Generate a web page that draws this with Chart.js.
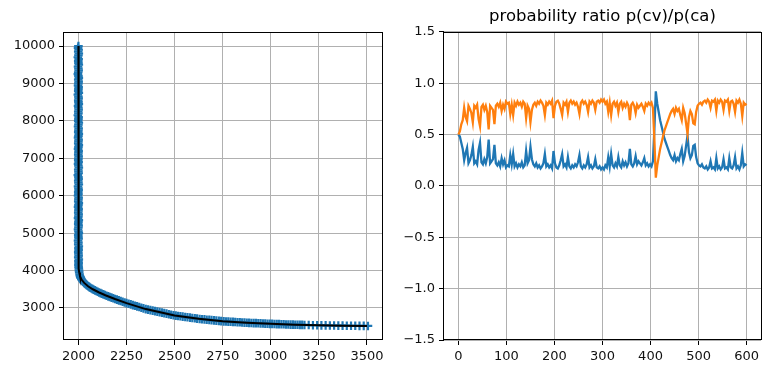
<!DOCTYPE html>
<html>
<head>
<meta charset="utf-8">
<script src="https://cdn.jsdelivr.net/npm/chart.js@4.4.1/dist/chart.umd.min.js"></script>
<style>
  body { margin: 0; background: #fff; }
  #wrap { position: relative; width: 771px; height: 374px; }
  canvas { position: absolute; top: 0; }
</style>
</head>
<body>
<div id="wrap">
  <canvas id="curveChart" width="390" height="374" style="left:0"></canvas>
  <canvas id="ratioChart" width="381" height="374" style="left:390px"></canvas>
</div>
<script>
// left panel: scattered samples (+) and the fitted curve (black)
const scatterX = [
  2000, 1998, 2001, 1999, 2002, 2000, 1997, 2001, 1999, 2000,
  2002, 1998, 2000, 2001, 1999, 1997, 2000, 2002, 1999, 2001,
  2000, 1998, 2001, 2000, 1999, 2002, 1997, 2000, 2001, 1999,
  2000, 2002, 1998, 2000, 2001, 1999, 2000, 1997, 2001, 2000,
  1999, 2002, 2000, 1998, 2001, 2000, 1999, 2002, 2000, 1998,
  2001, 2000, 1999, 2002, 2000, 1998, 2001, 2000, 1999, 2001,
  2000, 1999, 2001, 1998, 2000, 2002, 1999, 2000, 2001, 1997,
  2000, 2001, 1999, 2000, 2002, 1998, 2000, 2001, 1999, 2000,
  1998, 2001, 2000, 1999, 2002, 2000, 1998, 2001, 2000, 1999,
  2001, 2000, 1998, 2002, 2000, 1999, 2001, 2000, 1998, 2000,
  2002, 1999, 2000, 2001, 1998, 2000, 1999, 2002, 2000, 2001,
  1999, 2000, 2001, 1999, 2002, 2000, 2001, 2000, 2001, 2002,
  2003, 2004, 2006, 2008, 2010, 2012, 2015, 2017, 2020, 2023,
  2026, 2030, 2034, 2038, 2042, 2047, 2052, 2057, 2062, 2068,
  2074, 2080, 2086, 2093, 2100, 2107, 2115, 2122, 2130, 2138,
  2146, 2155, 2163, 2172, 2181, 2190, 2200, 2210, 2220, 2230,
  2240, 2250, 2261, 2272, 2283, 2294, 2305, 2316, 2327, 2338,
  2350, 2362, 2374, 2386, 2398, 2410, 2422, 2434, 2446, 2458,
  2470, 2482, 2494, 2506, 2518, 2530, 2542, 2555, 2567, 2580,
  2592, 2605, 2617, 2630, 2642, 2655, 2667, 2680, 2692, 2705,
  2717, 2730, 2742, 2755, 2767, 2779, 2791, 2803, 2815, 2827,
  2839, 2851, 2863, 2875, 2887, 2899, 2911, 2923, 2935, 2947,
  2959, 2971, 2983, 2995, 3007, 3019, 3031, 3043, 3055, 3067,
  3079, 3091, 3103, 3115, 3127, 3139, 3151, 3163, 3175, 3197,
  3219, 3241, 3263, 3285, 3307, 3329, 3351, 3373, 3395, 3417,
  3439, 3461, 3483, 3505
];
const scatterY = [
  10000, 9950, 9900, 9850, 9800, 9750, 9700, 9650, 9600, 9550,
  9500, 9450, 9400, 9350, 9300, 9250, 9200, 9150, 9100, 9050,
  9000, 8950, 8900, 8850, 8800, 8750, 8700, 8650, 8600, 8550,
  8500, 8450, 8400, 8350, 8300, 8250, 8200, 8150, 8100, 8050,
  8000, 7950, 7900, 7850, 7800, 7750, 7700, 7650, 7600, 7550,
  7500, 7450, 7400, 7350, 7300, 7250, 7200, 7150, 7100, 7050,
  7000, 6950, 6900, 6850, 6800, 6750, 6700, 6650, 6600, 6550,
  6500, 6450, 6400, 6350, 6300, 6250, 6200, 6150, 6100, 6050,
  6000, 5950, 5900, 5850, 5800, 5750, 5700, 5650, 5600, 5550,
  5500, 5450, 5400, 5350, 5300, 5250, 5200, 5150, 5100, 5050,
  5000, 4950, 4900, 4850, 4800, 4750, 4700, 4650, 4600, 4550,
  4500, 4450, 4400, 4350, 4300, 4250, 4200, 4150, 4100, 4050,
  4000, 3950, 3900, 3850, 3825, 3805, 3780, 3754, 3735, 3715,
  3692, 3670, 3652, 3634, 3616, 3594, 3576, 3558, 3540, 3522,
  3504, 3487, 3470, 3452, 3433, 3415, 3397, 3381, 3363, 3345,
  3327, 3310, 3293, 3276, 3258, 3240, 3222, 3203, 3185, 3167,
  3148, 3130, 3112, 3095, 3077, 3060, 3042, 3024, 3007, 2989,
  2970, 2956, 2943, 2929, 2916, 2902, 2889, 2875, 2861, 2848,
  2834, 2820, 2807, 2796, 2787, 2778, 2769, 2760, 2751, 2742,
  2733, 2724, 2716, 2707, 2700, 2694, 2687, 2681, 2674, 2668,
  2661, 2655, 2649, 2643, 2640, 2636, 2632, 2628, 2624, 2620,
  2617, 2613, 2609, 2605, 2602, 2599, 2596, 2594, 2591, 2588,
  2585, 2582, 2579, 2576, 2574, 2571, 2569, 2567, 2565, 2563,
  2560, 2558, 2556, 2554, 2552, 2550, 2549, 2547, 2546, 2543,
  2540, 2538, 2536, 2534, 2532, 2531, 2529, 2527, 2526, 2525,
  2524, 2522, 2521, 2520
];
const curveX = [2000, 2000, 2002, 2004, 2008, 2016, 2030, 2050, 2075, 2105, 2140, 2190,
  2250, 2350, 2500, 2625, 2750, 2875, 3000, 3125, 3250, 3375, 3500];
const curveY = [10000, 4300, 4050, 3950, 3850, 3760, 3670, 3580, 3500, 3420, 3340, 3240,
  3130, 2970, 2800, 2710, 2645, 2605, 2575, 2552, 2537, 2527, 2520];
const curveXTicks = [2000, 2250, 2500, 2750, 3000, 3250, 3500];
const curveYTicks = [3000, 4000, 5000, 6000, 7000, 8000, 9000, 10000];

// right panel: one value every 3 steps, 0..600
const step = 3;
const pBlue = [
  0.50, 0.48, 0.42, 0.36, 0.25, 0.32, 0.37, 0.22, 0.25, 0.30,
  0.38, 0.22, 0.24, 0.21, 0.35, 0.42, 0.23, 0.21, 0.26, 0.22,
  0.28, 0.45, 0.22, 0.24, 0.26, 0.40, 0.22, 0.20, 0.23, 0.19,
  0.27, 0.21, 0.25, 0.18, 0.20, 0.19, 0.30, 0.21, 0.31, 0.19,
  0.22, 0.18, 0.21, 0.19, 0.23, 0.18, 0.20, 0.34, 0.22, 0.25,
  0.38, 0.26, 0.21, 0.19, 0.22, 0.18, 0.20, 0.17, 0.19, 0.22,
  0.31, 0.19, 0.21, 0.18, 0.20, 0.17, 0.34, 0.22, 0.18, 0.17,
  0.20, 0.25, 0.31, 0.19, 0.21, 0.18, 0.28, 0.19, 0.17, 0.20,
  0.18, 0.21, 0.19, 0.23, 0.30, 0.19, 0.17, 0.20, 0.18, 0.21,
  0.28, 0.18, 0.20, 0.17, 0.19, 0.26, 0.18, 0.17, 0.19, 0.16,
  0.18, 0.16, 0.20, 0.18, 0.28, 0.19, 0.31, 0.20, 0.18, 0.22,
  0.19, 0.28, 0.20, 0.18, 0.24, 0.20, 0.23, 0.19, 0.22, 0.36,
  0.21, 0.19, 0.22, 0.29, 0.21, 0.24, 0.22, 0.20, 0.23, 0.27,
  0.20, 0.22, 0.19, 0.21, 0.19, 0.24, 0.55, 0.92, 0.80, 0.72,
  0.64, 0.58, 0.52, 0.46, 0.42, 0.38, 0.34, 0.30, 0.27, 0.25,
  0.30, 0.24, 0.27, 0.25, 0.31, 0.36, 0.24, 0.29, 0.39, 0.49,
  0.33, 0.27, 0.30, 0.39, 0.40, 0.28, 0.22, 0.20, 0.19, 0.21,
  0.18, 0.17, 0.19, 0.16, 0.18, 0.24, 0.17, 0.18, 0.16, 0.27,
  0.17, 0.19, 0.16, 0.18, 0.26, 0.17, 0.18, 0.16, 0.27, 0.18,
  0.17, 0.20, 0.28, 0.17, 0.19, 0.16, 0.20, 0.32, 0.19, 0.21,
  0.20
];
const pOrange = [
  0.50, 0.53, 0.60, 0.64, 0.76, 0.67, 0.63, 0.78, 0.75, 0.71,
  0.62, 0.78, 0.76, 0.79, 0.65, 0.58, 0.77, 0.79, 0.74, 0.78,
  0.72, 0.55, 0.78, 0.76, 0.74, 0.60, 0.78, 0.80, 0.77, 0.81,
  0.73, 0.79, 0.75, 0.82, 0.80, 0.81, 0.70, 0.79, 0.69, 0.81,
  0.78, 0.82, 0.79, 0.81, 0.77, 0.82, 0.80, 0.66, 0.78, 0.75,
  0.62, 0.74, 0.79, 0.81, 0.78, 0.82, 0.80, 0.83, 0.81, 0.78,
  0.69, 0.81, 0.79, 0.82, 0.80, 0.83, 0.66, 0.78, 0.82, 0.83,
  0.80, 0.75, 0.69, 0.81, 0.79, 0.82, 0.72, 0.81, 0.83, 0.80,
  0.82, 0.79, 0.81, 0.77, 0.70, 0.81, 0.83, 0.80, 0.82, 0.79,
  0.72, 0.82, 0.80, 0.83, 0.81, 0.74, 0.82, 0.83, 0.81, 0.84,
  0.82, 0.84, 0.80, 0.82, 0.72, 0.81, 0.69, 0.80, 0.82, 0.78,
  0.81, 0.72, 0.80, 0.82, 0.76, 0.80, 0.77, 0.81, 0.78, 0.64,
  0.79, 0.81, 0.78, 0.71, 0.79, 0.76, 0.78, 0.80, 0.77, 0.73,
  0.80, 0.78, 0.81, 0.79, 0.81, 0.76, 0.45, 0.08, 0.20, 0.28,
  0.36, 0.42, 0.48, 0.54, 0.58, 0.62, 0.66, 0.70, 0.73, 0.75,
  0.70, 0.76, 0.73, 0.75, 0.69, 0.64, 0.76, 0.71, 0.61, 0.51,
  0.67, 0.73, 0.70, 0.61, 0.60, 0.72, 0.78, 0.80, 0.81, 0.79,
  0.82, 0.83, 0.81, 0.84, 0.82, 0.76, 0.83, 0.82, 0.84, 0.73,
  0.83, 0.81, 0.84, 0.82, 0.74, 0.83, 0.82, 0.84, 0.73, 0.82,
  0.83, 0.80, 0.72, 0.83, 0.81, 0.84, 0.80, 0.68, 0.81, 0.79,
  0.80
];
const ratioXTicks = [0, 100, 200, 300, 400, 500, 600];
const ratioYTicks = [-1.5, -1.0, -0.5, 0.0, 0.5, 1.0, 1.5];
const ratioTitle = 'probability ratio p(cv)/p(ca)';

const tickFont = { family: 'DejaVu Sans', size: 13 };
const gridStyle = { color: '#b0b0b0', lineWidth: 1, tickColor: '#000', tickLength: 5 };

// matplotlib-like box around the plot area
const frame = {
  id: 'frame',
  afterDatasetsDraw(chart) {
    const a = chart.chartArea;
    const ctx = chart.ctx;
    ctx.save();
    ctx.strokeStyle = '#000';
    ctx.lineWidth = 1;
    ctx.strokeRect(Math.round(a.left) - 0.5, Math.round(a.top) + 0.5,
      Math.round(a.right - a.left) + 1, Math.round(a.bottom - a.top) - 1);
    ctx.restore();
  }
};

const fixedTicks = list => scale => { scale.ticks = list.map(v => ({ value: v })); };
const minus = v => String(v).replace('-', '\u2212');

new Chart(document.getElementById('curveChart'), {
  type: 'scatter',
  data: {
    datasets: [{
      data: curveX.map((x, i) => ({ x, y: curveY[i] })),
      showLine: true,
      borderColor: '#000',
      borderWidth: 2,
      pointRadius: 0,
      order: 0
    }, {
      data: scatterX.map((x, i) => ({ x, y: scatterY[i] })),
      pointStyle: 'cross',
      pointRadius: 4.3,
      borderColor: '#1f77b4',
      backgroundColor: '#1f77b4',
      borderWidth: 2.2,
      order: 1
    }]
  },
  options: {
    responsive: false,
    animation: false,
    devicePixelRatio: 1,
    layout: { padding: { top: 32, right: 8, left: 0, bottom: 0 } },
    plugins: { legend: { display: false }, tooltip: { enabled: false } },
    scales: {
      x: {
        min: 1925, max: 3578,
        afterBuildTicks: fixedTicks(curveXTicks),
        afterFit: s => { s.height = 34; },
        grid: gridStyle,
        border: { display: false },
        ticks: { font: tickFont, color: '#111', padding: 4, maxRotation: 0, autoSkip: false, callback: v => String(v) }
      },
      y: {
        min: 2144, max: 10375,
        afterBuildTicks: fixedTicks(curveYTicks),
        afterFit: s => { s.width = 64; },
        grid: gridStyle,
        border: { display: false },
        ticks: { font: tickFont, color: '#111', padding: 4, autoSkip: false, callback: v => String(v) }
      }
    }
  },
  plugins: [frame]
});

const xs = pBlue.map((_, i) => i * step);

new Chart(document.getElementById('ratioChart'), {
  type: 'line',
  data: {
    datasets: [{
      data: xs.map((x, i) => ({ x, y: pOrange[i] })),
      borderColor: '#ff7f0e',
      borderWidth: 2.3,
      pointRadius: 0,
      tension: 0
    }, {
      data: xs.map((x, i) => ({ x, y: pBlue[i] })),
      borderColor: '#1f77b4',
      borderWidth: 2.3,
      pointRadius: 0,
      tension: 0
    }]
  },
  options: {
    responsive: false,
    animation: false,
    devicePixelRatio: 1,
    layout: { padding: { top: 0, right: 10, left: 0, bottom: 0 } },
    plugins: {
      legend: { display: false },
      tooltip: { enabled: false },
      title: {
        display: true,
        text: ratioTitle,
        fullSize: false,
        color: '#000',
        font: { family: 'DejaVu Sans', size: 16.5, weight: 'normal' },
        padding: { top: 7, bottom: 5 }
      }
    },
    scales: {
      x: {
        type: 'linear',
        min: -30, max: 630,
        afterBuildTicks: fixedTicks(ratioXTicks),
        afterFit: s => { s.height = 34; },
        grid: gridStyle,
        border: { display: false },
        ticks: { font: tickFont, color: '#111', padding: 4, maxRotation: 0, autoSkip: false, callback: v => String(v) }
      },
      y: {
        min: -1.5, max: 1.5,
        afterBuildTicks: fixedTicks(ratioYTicks),
        afterFit: s => { s.width = 54; },
        grid: gridStyle,
        border: { display: false },
        ticks: { font: tickFont, color: '#111', padding: 4, autoSkip: false, callback: v => minus(v.toFixed(1)) }
      }
    }
  },
  plugins: [frame]
});
</script>
</body>
</html>
